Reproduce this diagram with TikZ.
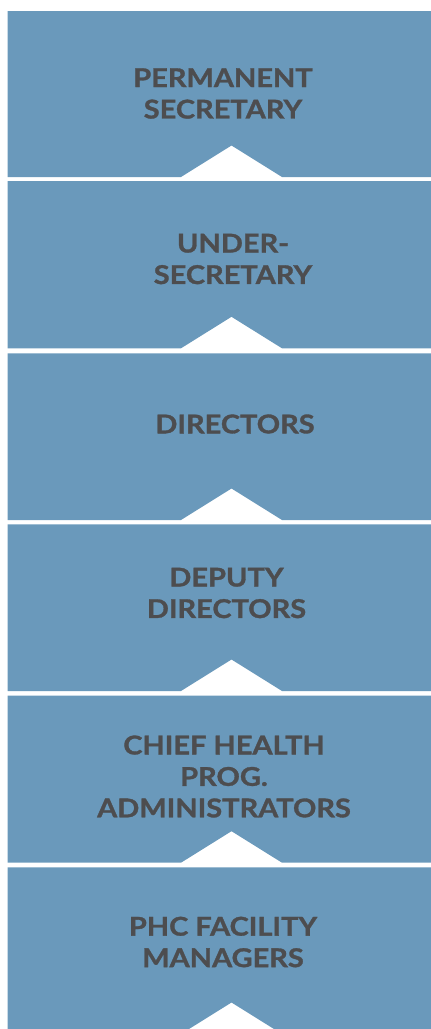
\documentclass[tikz,border=0pt]{standalone}
\usepackage{fontspec}
\setsansfont{Lato}[FakeStretch=1.12, BoldFeatures={FakeBold=1.2}]
\definecolor{levelblue}{RGB}{106,153,187}
\definecolor{levelgray}{RGB}{77,77,79}

\begin{document}
\begin{tikzpicture}[x=0.75pt, y=-0.75pt, font=\sffamily\bfseries]
		
		\tikzset{
			levelbox/.style={fill=levelblue},
			levellabel/.style={text=levelgray, align=center, inner sep=0pt,
				font=\sffamily\bfseries\fontsize{19.4}{23.6}\selectfont}
		}
		
		% --- 1. Page frame (the lowest box runs off the page) ---
		\clip (0,0) rectangle (431,1029);
		
		% --- 2. The stacked levels, each with a notch cut into its lower edge ---
		\foreach \top/\bot/\cx/\cy/\txt [count=\i] in {
			11/177/223/93.5/{PERMANENT\\SECRETARY},
			181/348.3/233/259/{UNDER-\\SECRETARY},
			353.3/520/235/424/{DIRECTORS},
			524.3/691/226.5/593/{DEPUTY\\DIRECTORS},
			695.7/862.7/224/776.5/{CHIEF HEALTH\\PROG.\\ADMINISTRATORS},
			867.3/1034/223/942/{PHC FACILITY\\MANAGERS}} {
			\fill[levelbox] (7.5,\top) -- (445,\top) -- (445,\bot)
				-- (282,\bot) -- (231.5,\bot-31.5) -- (181,\bot)
				-- (7.5,\bot) -- cycle;
			% Level title
			\node[levellabel] (level-\i) at (\cx,\cy) {\txt};
		}
		
	\end{tikzpicture}
\end{document}
